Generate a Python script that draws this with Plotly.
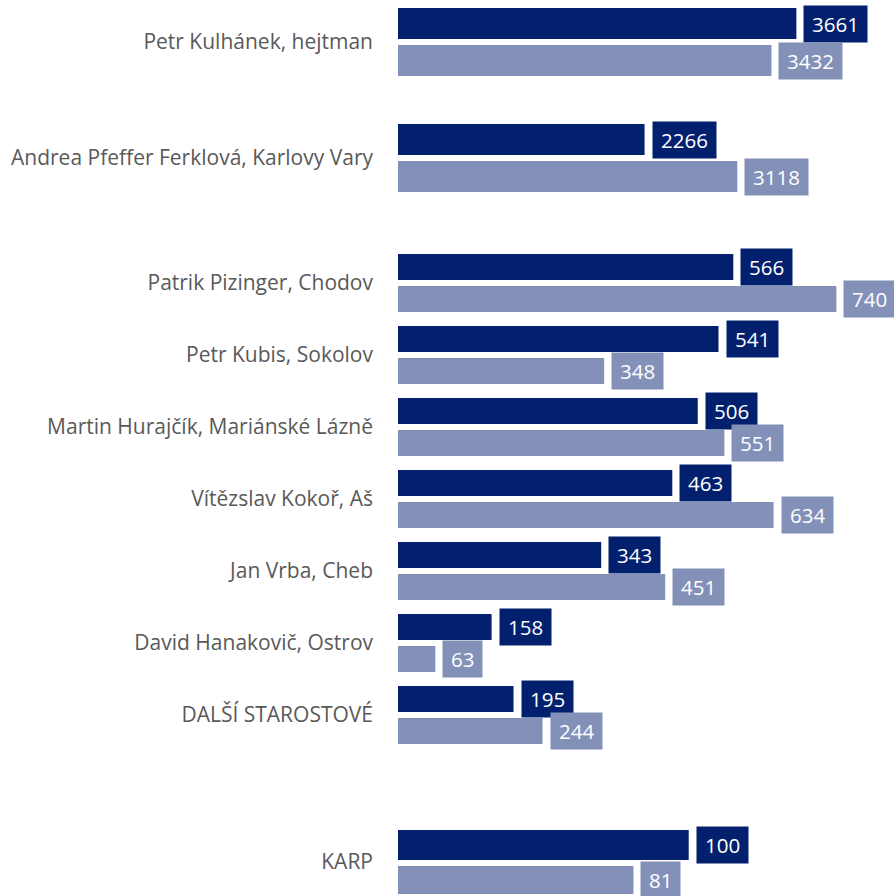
import plotly.graph_objects as go

# ---- data -------------------------------------------------------------
top_names = ["Petr Kulhánek, hejtman", "Andrea Pfeffer Ferklová, Karlovy Vary"]
top_dark = [3661, 2266]
top_light = [3432, 3118]

mayor_names = [
    "Patrik Pizinger, Chodov",
    "Petr Kubis, Sokolov",
    "Martin Hurajčík, Mariánské Lázně",
    "Vítězslav Kokoř, Aš",
    "Jan Vrba, Cheb",
    "David Hanakovič, Ostrov",
    "DALŠÍ STAROSTOVÉ",
]
mayor_dark = [566, 541, 506, 463, 343, 158, 195]
mayor_light = [740, 348, 551, 634, 451, 63, 244]

karp_names = ["KARP"]
karp_dark = [100]
karp_light = [81]

# ---- styling ----------------------------------------------------------
W, H = 894, 896
LEFT = 398
DARK = "#03206F"
LIGHT = "#8391B9"
FONT = "Open Sans"
FS_CAT = 21
FS_VAL = 20.5

# Each block: its own x scale (units per pixel) and vertical geometry (px)
blocks = [
    dict(names=top_names, dark=top_dark, light=top_light,
         upp=9.19, top=0, bottom=210, first=42, step=116,
         dark_bar=(-34, 31), light_bar=(3, 31)),
    dict(names=mayor_names, dark=mayor_dark, light=mayor_light,
         upp=1.688, top=235, bottom=760, first=283, step=72,
         dark_bar=(-29, 26), light_bar=(3, 26)),
    dict(names=karp_names, dark=karp_dark, light=karp_light,
         upp=0.344, top=790, bottom=896, first=862, step=72,
         dark_bar=(-32, 30), light_bar=(4, 28)),
]

plot_w = W - LEFT
fig = go.Figure()
annotations = []
layout_axes = {}

for i, b in enumerate(blocks, start=1):
    xa = "x" if i == 1 else f"x{i}"
    ya = "y" if i == 1 else f"y{i}"
    step = b["step"]
    for vals, color, (off, wid) in (
        (b["dark"], DARK, b["dark_bar"]),
        (b["light"], LIGHT, b["light_bar"]),
    ):
        fig.add_trace(go.Bar(
            x=vals, y=b["names"], orientation="h",
            marker=dict(color=color, line=dict(width=0)),
            offset=off / step, width=wid / step,
            xaxis=xa, yaxis=ya, showlegend=False, hoverinfo="x+y",
        ))
        center = off + wid / 2
        for v, n in zip(vals, b["names"]):
            annotations.append(dict(
                x=v, y=n, xref=xa, yref=ya,
                xanchor="left", yanchor="middle",
                xshift=7, yshift=-center,
                text=str(v), showarrow=False,
                font=dict(family=FONT, size=FS_VAL, color="white"),
                bgcolor=color, borderpad=8, height=20,
            ))

    dom = [1 - b["bottom"] / H, 1 - b["top"] / H]
    yrange = [(b["bottom"] - b["first"]) / step, (b["top"] - b["first"]) / step]
    layout_axes["xaxis" if i == 1 else f"xaxis{i}"] = dict(
        domain=[0, 1], anchor=ya, range=[0, plot_w * b["upp"]],
        visible=False, fixedrange=True,
    )
    layout_axes["yaxis" if i == 1 else f"yaxis{i}"] = dict(
        domain=dom, anchor=xa, type="category", range=yrange,
        showgrid=False, zeroline=False, showline=False, ticks="",
        ticklabelstandoff=24,
        tickfont=dict(family=FONT, size=FS_CAT, color="#595959"),
        fixedrange=True,
    )

fig.update_layout(
    width=W, height=H, autosize=False,
    margin=dict(l=LEFT, r=0, t=0, b=0, pad=0),
    paper_bgcolor="white", plot_bgcolor="white",
    annotations=annotations,
    **layout_axes,
)

fig.write_html("out.html", config={"displayModeBar": False})
